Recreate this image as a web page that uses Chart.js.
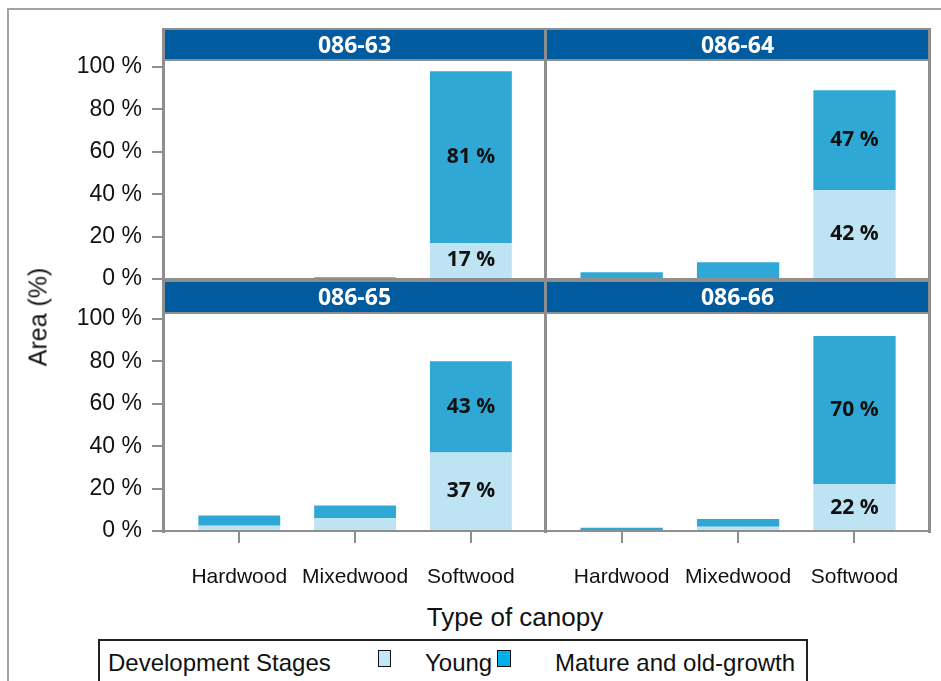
<!DOCTYPE html>
<html>
<head>
<meta charset="utf-8">
<script src="https://cdn.jsdelivr.net/npm/chart.js@4.4.1/dist/chart.umd.min.js"></script>
<style>
  body { margin: 0; background: #fff; font-family: "Liberation Sans", Arial, sans-serif; }
  #page { position: relative; width: 941px; height: 681px; overflow: hidden; }
  canvas { position: absolute; }
  .line { position: absolute; background: #8e8e8e; z-index: 2; }
  .strip { position: absolute; background: #005b9f; color: #fff; z-index: 2;
           font: bold 23px "Open Sans", sans-serif; text-align: center; line-height: 29px; }
  .txt { position: absolute; color: #111; white-space: nowrap; z-index: 3; line-height: 1; }
  .sq { position: absolute; box-sizing: border-box; border: 1.5px solid #111; z-index: 3; }
</style>
</head>
<body>
<div id="page">
  <div style="position:absolute;left:7px;top:8px;width:1000px;height:1000px;border-left:2px solid #a3a3a3;border-top:2px solid #a3a3a3;"></div>

  <canvas id="p1" width="506" height="268" style="left:39px;top:36px"></canvas>
  <canvas id="p2" width="383" height="268" style="left:546px;top:36px"></canvas>
  <canvas id="p3" width="506" height="308" style="left:39px;top:288px"></canvas>
  <canvas id="p4" width="383" height="308" style="left:546px;top:288px"></canvas>

  <div id="frames"></div>

  <div class="txt" style="left:38px;top:317px;font-size:25px;transform:translate(-50%,-50%) rotate(-90deg);">Area (%)</div>
  <div class="txt" style="left:515px;top:604px;font-size:26px;transform:translateX(-50%);">Type of canopy</div>

  <div style="position:absolute;left:98px;top:639px;width:710px;height:44px;box-sizing:border-box;border:2px solid #222;"></div>
  <div id="legend"></div>
</div>

<script>
// categories and panel names
const categories = ['Hardwood', 'Mixedwood', 'Softwood'];
const panelNames = ['086-63', '086-64', '086-65', '086-66'];
const seriesNames = ['Young', 'Mature and old-growth'];
const yTicks = [0, 20, 40, 60, 80, 100];

// area (%) per canopy type
const young63 = [0, 0, 17];
const mature63 = [0, 0.8, 81];
const young64 = [0, 0, 42];
const mature64 = [3.2, 7.9, 47];
const young65 = [2.5, 6, 37];
const mature65 = [4.8, 6, 43];
const young66 = [0.3, 2, 22];
const mature66 = [1.2, 3.6, 70];

const YOUNG_COLOR = '#bee3f3';
const MATURE_COLOR = '#30a8d6';
const LINE_COLOR = '#8e8e8e';

// --- frame lines and header strips ---
const frames = document.getElementById('frames');
function addDiv(cls, l, t, w, h, text) {
    const d = document.createElement('div');
    d.className = cls;
    d.style.left = l + 'px';
    d.style.top = t + 'px';
    d.style.width = w + 'px';
    d.style.height = h + 'px';
    if (text) d.textContent = text;
    frames.appendChild(d);
}
addDiv('strip', 165, 30, 379, 29, panelNames[0]);
addDiv('strip', 547, 30, 381, 29, panelNames[1]);
addDiv('strip', 165, 282, 379, 30, panelNames[2]);
addDiv('strip', 547, 282, 381, 30, panelNames[3]);
[162, 544, 928].forEach(x => addDiv('line', x, 28, 3, 505));
addDiv('line', 162, 28, 769, 2);
addDiv('line', 162, 59, 769, 2);
addDiv('line', 162, 278, 769, 4);
addDiv('line', 162, 312, 769, 2);
addDiv('line', 162, 530, 769, 2);

// --- legend ---
const legend = document.getElementById('legend');
legend.innerHTML =
    `<div class="txt" style="left:108px;top:651px;font-size:24px;">Development Stages</div>` +
    `<div class="sq" style="left:378px;top:650px;width:13px;height:17px;background:#c4e6fa;"></div>` +
    `<div class="txt" style="left:425px;top:651px;font-size:24px;">${seriesNames[0]}</div>` +
    `<div class="sq" style="left:497px;top:650px;width:14px;height:17px;background:#00aeea;"></div>` +
    `<div class="txt" style="left:555px;top:651px;font-size:24px;">${seriesNames[1]}</div>`;

// --- percentage labels inside the big segments ---
const barLabels = {
    id: 'barLabels',
    afterDatasetsDraw(chart) {
        const ctx = chart.ctx;
        ctx.save();
        ctx.font = 'bold 21px "Open Sans", sans-serif';
        ctx.fillStyle = '#111';
        ctx.textAlign = 'center';
        ctx.textBaseline = 'middle';
        chart.data.datasets.forEach((ds, di) => {
            chart.getDatasetMeta(di).data.forEach((bar, i) => {
                const v = ds.data[i].y;
                if (v < 10) return;
                ctx.fillText(Math.round(v) + ' %', bar.x, (bar.y + bar.base) / 2);
            });
        });
        ctx.restore();
    }
};

function panelChart(id, young, mature, showY, showX) {
    const tickFont = { family: '"Liberation Sans", Arial, sans-serif', size: 21 };
    return new Chart(document.getElementById(id), {
        type: 'bar',
        data: {
            datasets: [
                { label: seriesNames[0], data: young.map((v, i) => ({ x: i, y: v })),
                  backgroundColor: YOUNG_COLOR, barPercentage: 0.707, categoryPercentage: 1 },
                { label: seriesNames[1], data: mature.map((v, i) => ({ x: i, y: v })),
                  backgroundColor: MATURE_COLOR, barPercentage: 0.707, categoryPercentage: 1 }
            ]
        },
        options: {
            responsive: false,
            animation: false,
            layout: { padding: { top: 25, bottom: showX ? 5 : 25, left: 0, right: 0 } },
            scales: {
                x: {
                    type: 'linear', stacked: true, min: -0.65, max: 2.64, display: showX, offset: false,
                    afterBuildTicks: s => { s.ticks = categories.map((c, i) => ({ value: i })); },
                    afterFit: s => { s.height = showX ? 60 : 0; },
                    grid: { offset: false, drawOnChartArea: false, tickLength: 12, color: LINE_COLOR, lineWidth: 2 },
                    border: { display: false },
                    ticks: { callback: v => categories[v], padding: 22, font: tickFont, color: '#111',
                             maxRotation: 0, autoSkip: false }
                },
                y: {
                    stacked: true, min: 0, max: 102.8, display: showY,
                    afterBuildTicks: s => { s.ticks = yTicks.map(v => ({ value: v })); },
                    afterFit: s => { s.width = showY ? 125 : 0; },
                    grid: { drawOnChartArea: false, tickLength: 12, color: LINE_COLOR, lineWidth: 2 },
                    border: { display: false },
                    ticks: { callback: v => v + ' %', padding: 10, font: { ...tickFont, size: 23 }, color: '#111' }
                }
            },
            plugins: { legend: { display: false }, tooltip: { enabled: false } }
        },
        plugins: [barLabels]
    });
}

panelChart('p1', young63, mature63, true, false);
panelChart('p2', young64, mature64, false, false);
panelChart('p3', young65, mature65, true, true);
panelChart('p4', young66, mature66, false, true);
</script>
</body>
</html>
